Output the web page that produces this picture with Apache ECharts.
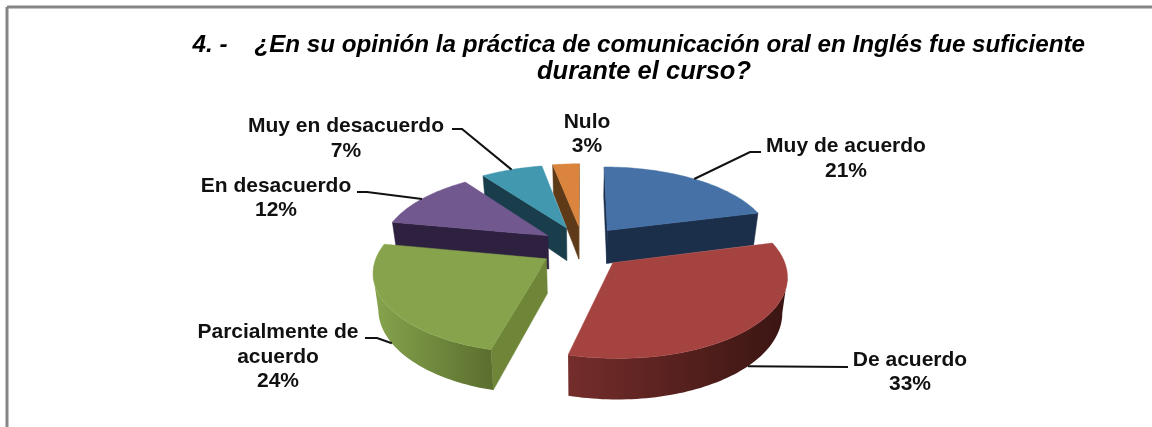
<!DOCTYPE html>
<html><head><meta charset="utf-8">
<style>html,body{margin:0;padding:0;background:#fff}#c{width:1152px;height:427px}</style>
<script src="https://cdn.jsdelivr.net/npm/echarts@6/dist/echarts.min.js"></script>
</head><body><div id="c"></div>
<script>
var categories = ['Muy de acuerdo', 'De acuerdo', 'Parcialmente de acuerdo', 'En desacuerdo', 'Muy en desacuerdo', 'Nulo'];
var shares = [21, 33, 24, 12, 7, 3];
var labelTexts = ['Muy de acuerdo', 'De acuerdo', 'Parcialmente de\nacuerdo', 'En desacuerdo', 'Muy en desacuerdo', 'Nulo'];
var titleLine1 = '4. -\u00a0\u00a0\u00a0\u00a0¿En su opinión la práctica de comunicación oral en Inglés fue suficiente';
var titleLine2 = 'durante el curso?';

// styling and layout
var topColors = ['#4571A7', '#A54341', '#87A44D', '#71588F', '#4198AF', '#DB843D'];
var wallColors = ['#1B2F4A', '#3F1815', '#6F8639', '#2E2140', '#193D4A', '#5E3A18'];
var rimStops = [['#1B2F4A', '#1B2F4A'], ['#742D2B', '#3A1512'], ['#87A44D', '#5A6E2E'], ['#2E2140', '#2E2140'], ['#193D4A', '#193D4A'], ['#5E3A18', '#5E3A18']];
var drawOrder = [5, 4, 3, 0, 2, 1];
var labelAnchors = [[846, 158.5], [910, 372], [278, 357], [276, 198], [346, 138.5], [587, 134]];
var leaderEnds = [[[750, 152], [761, 152]], [[848, 367]], [[377, 338], [365, 338]], [[367, 192], [357, 192]], [[462, 129], [452, 129]], null];
var leaderFromBase = [false, true, true, false, false, false];
var cam = {cx: 582.5, cy: 247, A: 167, K: 77, p: 0.1436, explodeX: 0.25, explodeY: 0.28, H: 34, baseScale: 0.975};

var total = shares.reduce(function (a, b) { return a + b; }, 0);
var angles = []; var run = 0;
shares.forEach(function (v) { var a0 = run / total * Math.PI * 2; run += v; angles.push([a0, run / total * Math.PI * 2]); });

function project(x, y, base) {
  var s = 1 / (1 + cam.p * y);
  var dx = cam.A * x * s;
  var sy = cam.cy - cam.K * y * s;
  if (base) return [cam.cx + dx * cam.baseScale, sy + cam.H * s];
  return [cam.cx + dx, sy];
}
function slicePoint(i, theta, radius, base) {
  var mid = (angles[i][0] + angles[i][1]) / 2;
  return project(cam.explodeX * Math.sin(mid) + radius * Math.sin(theta),
    cam.explodeY * Math.cos(mid) + radius * Math.cos(theta), base);
}

function renderSlice(params, api) {
  var i = drawOrder[params.dataIndex];
  var a0 = angles[i][0], a1 = angles[i][1];
  var steps = Math.max(6, Math.round((a1 - a0) * 40));
  var rimTop = [], rimBase = [];
  for (var k = 0; k <= steps; k++) {
    var t = a0 + (a1 - a0) * k / steps;
    rimTop.push(slicePoint(i, t, 1, false));
    rimBase.push(slicePoint(i, t, 1, true));
  }
  var apexT = slicePoint(i, 0, 0, false), apexB = slicePoint(i, 0, 0, true);
  var children = [];
  function wall(p, q, pb, qb) {
    if (q[0] - p[0] >= 0) return;
    children.push({type: 'polygon', shape: {points: [p, q, qb, pb]},
      style: {fill: wallColors[i], stroke: wallColors[i], lineWidth: 0.5}});
  }
  wall(apexT, rimTop[0], apexB, rimBase[0]);
  wall(rimTop[steps], apexT, rimBase[steps], apexB);
  var top = [], base = [];
  for (var m = 0; m < steps; m++) {
    if (rimTop[m + 1][0] - rimTop[m][0] < 0) {
      if (!top.length) { top.push(rimTop[m]); base.push(rimBase[m]); }
      top.push(rimTop[m + 1]); base.push(rimBase[m + 1]);
    }
  }
  if (top.length) {
    var stops = rimStops[i];
    children.push({type: 'polygon', shape: {points: top.concat(base.slice().reverse())},
      style: {fill: new echarts.graphic.LinearGradient(0, 0, 1, 0, [{offset: 0, color: stops[0]}, {offset: 1, color: stops[1]}]),
        stroke: null}});
  }
  children.push({type: 'polygon', shape: {points: [apexT].concat(rimTop)},
    style: {fill: topColors[i], stroke: topColors[i], lineWidth: 0.5}});
  return {type: 'group', children: children};
}

function renderCallout(params, api) {
  var i = params.dataIndex;
  var children = [];
  if (leaderEnds[i]) {
    var mid = (angles[i][0] + angles[i][1]) / 2;
    var start = slicePoint(i, mid, 1, leaderFromBase[i]);
    children.push({type: 'polyline', shape: {points: [start].concat(leaderEnds[i])},
      style: {stroke: '#111', lineWidth: 2, fill: null}});
  }
  children.push({type: 'text', style: {
    text: labelTexts[i] + '\n' + shares[i] + '%',
    x: labelAnchors[i][0], y: labelAnchors[i][1],
    align: 'center', verticalAlign: 'middle',
    font: 'bold 21px "Liberation Sans"', lineHeight: 24.5, fill: '#111'}});
  return {type: 'group', children: children};
}

var titleFont = {fontFamily: 'Liberation Sans', fontWeight: 'bold', fontStyle: 'italic', color: '#000'};
var chart = echarts.init(document.getElementById('c'), null, {renderer: 'canvas'});
chart.setOption({
  animation: false,
  backgroundColor: '#fff',
  title: [
    {text: titleLine1, left: 1085, top: 33, textAlign: 'right', padding: 0,
      textStyle: Object.assign({fontSize: 24.2}, titleFont)},
    {text: titleLine2, left: 644, top: 59, textAlign: 'center', padding: 0,
      textStyle: Object.assign({fontSize: 25.5}, titleFont)}
  ],
  graphic: [
    {type: 'line', shape: {x1: 7, y1: 7, x2: 1152, y2: 7}, style: {stroke: '#868686', lineWidth: 3}},
    {type: 'line', shape: {x1: 7, y1: 7, x2: 7, y2: 427}, style: {stroke: '#868686', lineWidth: 3}}
  ],
  series: [
    {type: 'custom', coordinateSystem: 'none', silent: true, z: 2, renderItem: renderSlice,
      data: drawOrder.map(function (i) { return {name: categories[i], value: shares[i]}; })},
    {type: 'custom', coordinateSystem: 'none', silent: true, z: 3, renderItem: renderCallout,
      data: categories.map(function (c, i) { return {name: c, value: shares[i]}; })}
  ]
});
</script></body></html>
